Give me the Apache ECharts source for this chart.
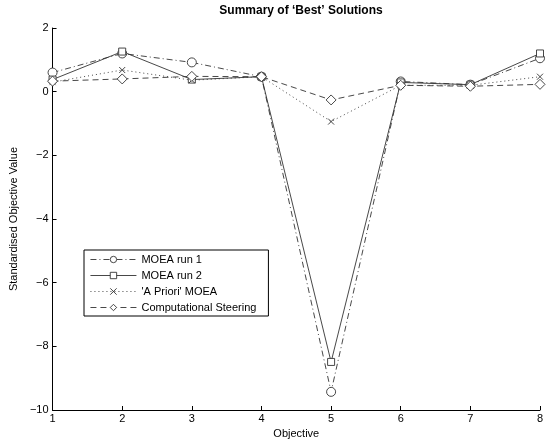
<!DOCTYPE html>
<html>
<head>
<meta charset="utf-8">
<script src="https://cdn.jsdelivr.net/npm/echarts@6/dist/echarts.min.js"></script>
<style>
  html, body { margin: 0; padding: 0; background: #fff; }
  #chart { width: 548px; height: 446px; }
</style>
</head>
<body>
<div id="chart"></div>
<script>
// objectives 1..8
const objectives = [1, 2, 3, 4, 5, 6, 7, 8];
const seriesNames = ['MOEA run 1', 'MOEA run 2', "'A Priori' MOEA", 'Computational Steering'];
const moeaRun1 = [0.60, 1.20, 0.92, 0.47, -9.43, 0.32, 0.22, 1.05];
const moeaRun2 = [0.38, 1.26, 0.38, 0.47, -8.49, 0.29, 0.22, 1.20];
const aPriori = [0.30, 0.68, 0.36, 0.47, -0.94, 0.20, 0.20, 0.47];
const steering = [0.33, 0.40, 0.48, 0.47, -0.26, 0.20, 0.17, 0.23];
const yTicks = [-10, -8, -6, -4, -2, 0, 2];

const crossPath = 'path://M0,0L10,10M10,0L0,10';
const ink = '#333';

function pairs(vals) {
  return objectives.map((x, i) => [x, vals[i]]);
}

function makeSeries(name, vals, symbol, size, dash) {
  return {
    name: name,
    type: 'line',
    data: pairs(vals),
    symbol: symbol,
    symbolSize: size,
    showAllSymbol: true,
    lineStyle: { color: ink, width: 0.9, type: dash },
    itemStyle: { color: '#fff', borderColor: ink, borderWidth: 0.9 },
    emphasis: { disabled: true },
    z: 2
  };
}

const chart = echarts.init(document.getElementById('chart'));

chart.setOption({
  animation: false,
  backgroundColor: '#fff',
  textStyle: { fontFamily: 'Liberation Sans, Arial, sans-serif' },
  title: {
    text: 'Summary of \u2018Best\u2019 Solutions',
    left: 296,
    textAlign: 'center',
    top: 0,
    textStyle: { fontSize: 12, fontWeight: 'bold', color: '#000' }
  },
  grid: { left: 52, right: 8, top: 28, bottom: 36 },
  legend: {
    orient: 'vertical',
    left: 84,
    top: 250,
    padding: [4, 12, 3, 6],
    itemGap: 5,
    itemWidth: 46,
    itemHeight: 8,
    borderColor: '#000',
    borderWidth: 1,
    backgroundColor: '#fff',
    textStyle: { fontSize: 11, color: '#000' },
    lineStyle: { width: 0.9 },
    itemStyle: { borderWidth: 0.9 },
    data: seriesNames
  },
  xAxis: {
    type: 'value',
    min: 1,
    max: 8,
    interval: 1,
    name: 'Objective',
    nameLocation: 'middle',
    nameGap: 18,
    nameTextStyle: { fontSize: 11, color: '#000' },
    axisLine: { onZero: false, lineStyle: { color: '#000', width: 1 } },
    axisTick: { inside: true, length: 4, lineStyle: { color: '#000' } },
    axisLabel: { fontSize: 11, color: '#000', margin: 3 },
    splitLine: { show: false }
  },
  yAxis: {
    type: 'value',
    min: -10,
    max: 2,
    interval: 2,
    name: 'Standardised Objective Value',
    nameLocation: 'middle',
    nameGap: 30,
    nameTextStyle: { fontSize: 11, color: '#000' },
    axisLine: { show: true, lineStyle: { color: '#000', width: 1 } },
    axisTick: { show: true, inside: true, length: 4, lineStyle: { color: '#000' } },
    axisLabel: {
      fontSize: 11, color: '#000', margin: 4,
      formatter: v => String(v).replace('-', '\u2212')
    },
    splitLine: { show: false }
  },
  series: [
    makeSeries(seriesNames[0], moeaRun1, 'circle', 9, [6, 3, 1, 3]),
    makeSeries(seriesNames[1], moeaRun2, 'rect', 7, 'solid'),
    makeSeries(seriesNames[2], aPriori, crossPath, 6, [1, 3]),
    makeSeries(seriesNames[3], steering, 'diamond', 10, [6, 4])
  ]
});
</script>
</body>
</html>
